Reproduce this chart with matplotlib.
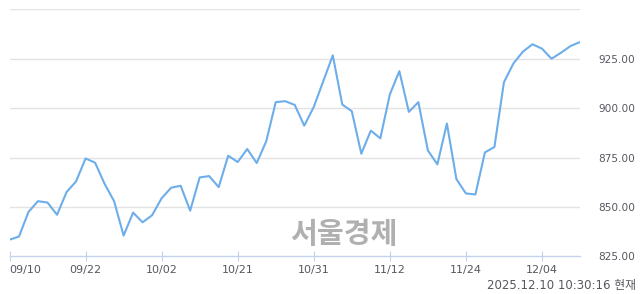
import matplotlib
matplotlib.use("Agg")
import matplotlib.pyplot as plt

values = [833.4, 835.0, 847.5, 852.9, 852.2, 846.0, 857.5, 862.9, 874.5, 872.4,
          861.7, 852.9, 835.5, 847.1, 842.2, 845.8, 854.4, 859.7, 860.7, 848.1,
          864.9, 865.6, 860.0, 875.9, 872.7, 879.3, 872.2, 883.2, 903.0, 903.5,
          901.6, 891.1, 900.6, 913.6, 926.7, 901.8, 898.4, 876.9, 888.6, 884.7,
          906.9, 918.7, 898.1, 903.0, 878.6, 871.5, 892.2, 864.1, 856.8, 856.3,
          877.6, 880.3, 913.1, 922.6, 928.6, 932.3, 930.1, 925.0, 928.0, 931.4,
          933.4]
tick_idx = [0, 8, 16, 24, 32, 40, 48, 56]
tick_labels = ["09/10", "09/22", "10/02", "10/21", "10/31", "11/12", "11/24", "12/04"]
y_ticks = [825, 850, 875, 900, 925]
timestamp = "2025.12.10 10:30:16 현재"
watermark = "서울경제"

plt.rcParams['font.family'] = ['DejaVu Sans', 'Noto Sans CJK KR']
txt = '#5a5560'

fig = plt.figure(figsize=(6.4, 2.94), dpi=100)
ax = fig.add_axes([9.5/640, 1-256.3/294, (580-9.5)/640, (256.3-9.3)/294])
x = list(range(len(values)))
ax.plot(x, values, color='#6daeea', lw=1.5, zorder=3)
ax.set_xlim(0, len(values)-1)
ax.set_ylim(825, 950)

for v in y_ticks + [950]:
    if v != 825:
        ax.axhline(v, color='#e3e3e3', lw=1, zorder=1)
for s in ['top', 'right', 'left']:
    ax.spines[s].set_visible(False)
ax.spines['bottom'].set_color('#c5d3ea')
ax.spines['bottom'].set_linewidth(1)

ax.yaxis.tick_right()
ax.set_yticks(y_ticks)
ax.set_yticklabels([f"{v:.2f}" for v in y_ticks], color=txt, fontsize=7.6)
ax.tick_params(axis='y', length=0, pad=13)

ax.set_xticks(tick_idx)
ax.set_xticklabels(tick_labels, color=txt, fontsize=8)
ax.tick_params(axis='x', length=7, direction='inout', color='#c5d3ea', pad=3)
lbls = ax.get_xticklabels()
lbls[0].set_horizontalalignment('left')

fig.text(344/640, 1-234/294, watermark, family=['Noto Sans CJK KR'], fontweight='bold',
         fontsize=21, color='#b0b0b0', ha='center', va='center')
fig.text(636/640, 1-286/294, timestamp, fontsize=8.5, color=txt, ha='right', va='center')

fig.savefig('out.png', dpi=100)
